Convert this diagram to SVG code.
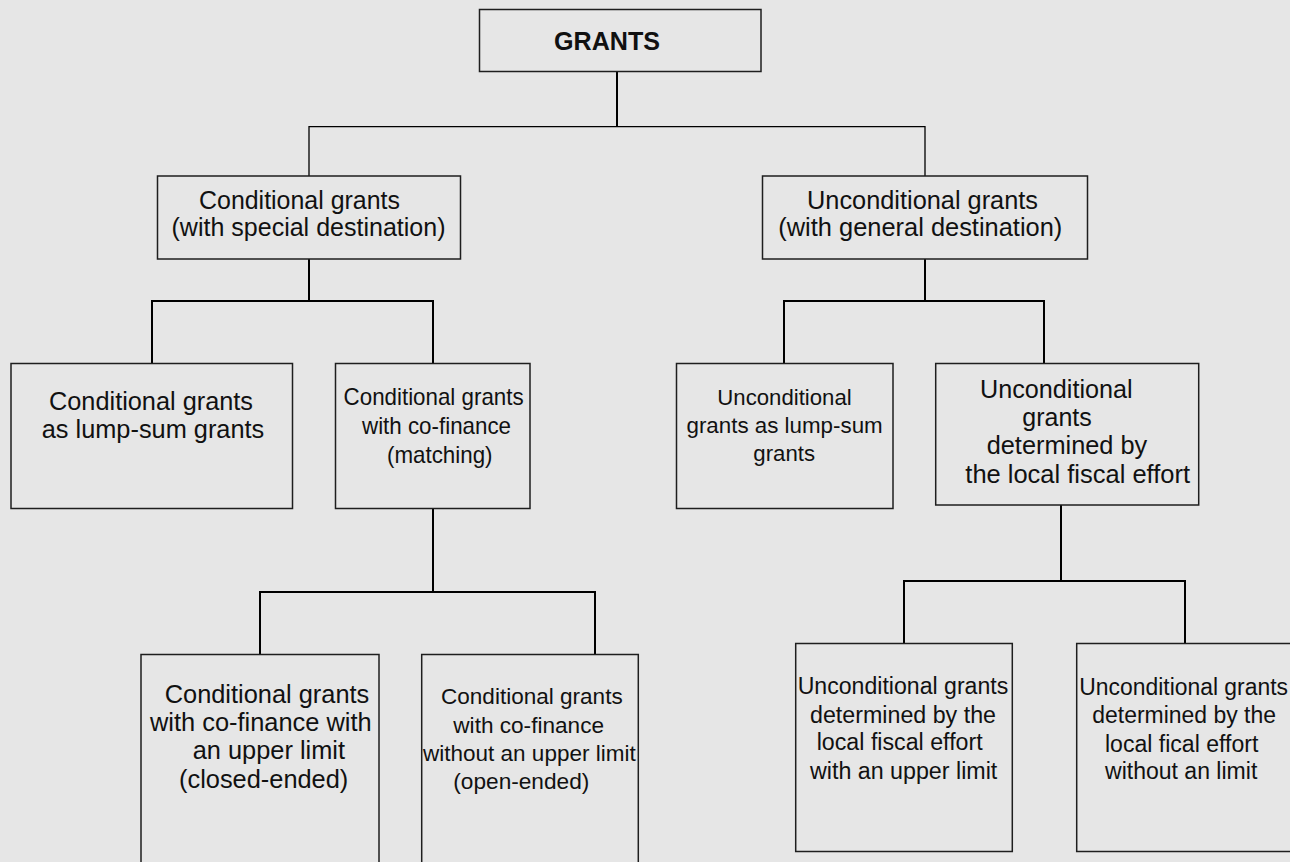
<svg xmlns="http://www.w3.org/2000/svg" width="1290" height="862" viewBox="0 0 1290 862">
<style>
.bg{fill:#e6e6e6}
.box{fill:#e6e6e6;stroke:#1e1e1e;stroke-width:1.5}
.t{font-family:"Liberation Sans",Arial,sans-serif;fill:#111;font-size:25px}
.s{font-size:22.5px}
.m{font-size:23px}
.n{font-size:24px}
.b{font-weight:bold}
.c{fill:none;stroke:#000;stroke-width:2}
.c1{fill:none;stroke:#000;stroke-width:1.3}
</style>
<rect class="bg" x="0" y="0" width="1290" height="862"/>
<g id="connectors">
<path class="c" d="M617,72 V126.7"/>
<path class="c1" d="M309,176 V126.7 H925 V176"/>
<path class="c" d="M309,259 V301"/>
<path class="c" d="M152,363.5 V301 H433 V363.5"/>
<path class="c" d="M925,259 V301"/>
<path class="c" d="M784,363.5 V301 H1044 V363.5"/>
<path class="c" d="M433,508.7 V592"/>
<path class="c" d="M260,654.5 V592 H595 V654.5"/>
<path class="c" d="M1061,505 V581"/>
<path class="c" d="M904,643.5 V581 H1185 V643.5"/>
</g>
<g id="grants">
<rect class="box" x="479.5" y="9.5" width="281.5" height="62"/>
<text class="t b" x="554" y="49.5" textLength="106" lengthAdjust="spacingAndGlyphs">GRANTS</text>
</g>
<g id="conditional">
<rect class="box" x="157.5" y="176" width="303" height="83"/>
<text class="t" x="199" y="208.5" textLength="201" lengthAdjust="spacingAndGlyphs">Conditional grants</text>
<text class="t" x="171.5" y="236" textLength="274" lengthAdjust="spacingAndGlyphs">(with special destination)</text>
</g>
<g id="unconditional">
<rect class="box" x="762.5" y="176" width="325" height="83"/>
<text class="t" x="807" y="208.5" textLength="231" lengthAdjust="spacingAndGlyphs">Unconditional grants</text>
<text class="t" x="778.3" y="236" textLength="284" lengthAdjust="spacingAndGlyphs">(with general destination)</text>
</g>
<g id="cond-lumpsum">
<rect class="box" x="11" y="363.5" width="281.5" height="145"/>
<text class="t" x="49" y="409.5" textLength="204" lengthAdjust="spacingAndGlyphs">Conditional grants</text>
<text class="t" x="41.7" y="437.5" textLength="222.6" lengthAdjust="spacingAndGlyphs">as lump-sum grants</text>
</g>
<g id="cond-matching">
<rect class="box" x="335.5" y="363.5" width="194.5" height="145"/>
<text class="t n" x="343.6" y="405" textLength="180" lengthAdjust="spacingAndGlyphs">Conditional grants</text>
<text class="t n" x="362" y="434" textLength="149" lengthAdjust="spacingAndGlyphs">with co-finance</text>
<text class="t n" x="387" y="463" textLength="105.5" lengthAdjust="spacingAndGlyphs">(matching)</text>
</g>
<g id="uncond-lumpsum">
<rect class="box" x="676.5" y="363.5" width="216.5" height="145"/>
<text class="t s" x="717.3" y="405" textLength="134.4" lengthAdjust="spacingAndGlyphs">Unconditional</text>
<text class="t s" x="686.5" y="433" textLength="196.2" lengthAdjust="spacingAndGlyphs">grants as lump-sum</text>
<text class="t s" x="753.3" y="461" textLength="61.7" lengthAdjust="spacingAndGlyphs">grants</text>
</g>
<g id="uncond-fiscal">
<rect class="box" x="935.7" y="363.5" width="263" height="141.5"/>
<text class="t" x="980" y="397.7" textLength="152.7" lengthAdjust="spacingAndGlyphs">Unconditional</text>
<text class="t" x="1022.3" y="426" textLength="69.4" lengthAdjust="spacingAndGlyphs">grants</text>
<text class="t" x="986.7" y="454.3" textLength="160.6" lengthAdjust="spacingAndGlyphs">determined by</text>
<text class="t" x="965.3" y="482.7" textLength="224.7" lengthAdjust="spacingAndGlyphs">the local fiscal effort</text>
</g>
<g id="cond-closed">
<rect class="box" x="141" y="654.5" width="238" height="220"/>
<text class="t" x="164.7" y="702.7" textLength="204.6" lengthAdjust="spacingAndGlyphs">Conditional grants</text>
<text class="t" x="150" y="731" textLength="221.7" lengthAdjust="spacingAndGlyphs">with co-finance with</text>
<text class="t" x="192.7" y="759.3" textLength="152.3" lengthAdjust="spacingAndGlyphs">an upper limit</text>
<text class="t" x="179" y="787.7" textLength="169.3" lengthAdjust="spacingAndGlyphs">(closed-ended)</text>
</g>
<g id="cond-open">
<rect class="box" x="421.7" y="654.5" width="216.6" height="220"/>
<text class="t s" x="441" y="704.3" textLength="181.7" lengthAdjust="spacingAndGlyphs">Conditional grants</text>
<text class="t s" x="453.3" y="732.7" textLength="150.7" lengthAdjust="spacingAndGlyphs">with co-finance</text>
<text class="t s" x="423" y="761" textLength="212.7" lengthAdjust="spacingAndGlyphs">without an upper limit</text>
<text class="t s" x="453.3" y="789.3" textLength="136" lengthAdjust="spacingAndGlyphs">(open-ended)</text>
</g>
<g id="uncond-upper">
<rect class="box" x="795.7" y="643.5" width="216.6" height="208"/>
<text class="t m" x="797.7" y="694.3" textLength="210.6" lengthAdjust="spacingAndGlyphs">Unconditional grants</text>
<text class="t m" x="810" y="722.7" textLength="186" lengthAdjust="spacingAndGlyphs">determined by the</text>
<text class="t m" x="816.7" y="750.3" textLength="166" lengthAdjust="spacingAndGlyphs">local fiscal effort</text>
<text class="t m" x="810" y="779.3" textLength="187.3" lengthAdjust="spacingAndGlyphs">with an upper limit</text>
</g>
<g id="uncond-nolimit">
<rect class="box" x="1076.7" y="643.5" width="220" height="208"/>
<text class="t m" x="1079.3" y="695.3" textLength="208.7" lengthAdjust="spacingAndGlyphs">Unconditional grants</text>
<text class="t m" x="1092.3" y="722.7" textLength="183.7" lengthAdjust="spacingAndGlyphs">determined by the</text>
<text class="t m" x="1105" y="751.7" textLength="153.3" lengthAdjust="spacingAndGlyphs">local fical effort</text>
<text class="t m" x="1105" y="779.3" textLength="152.3" lengthAdjust="spacingAndGlyphs">without an limit</text>
</g>
</svg>
